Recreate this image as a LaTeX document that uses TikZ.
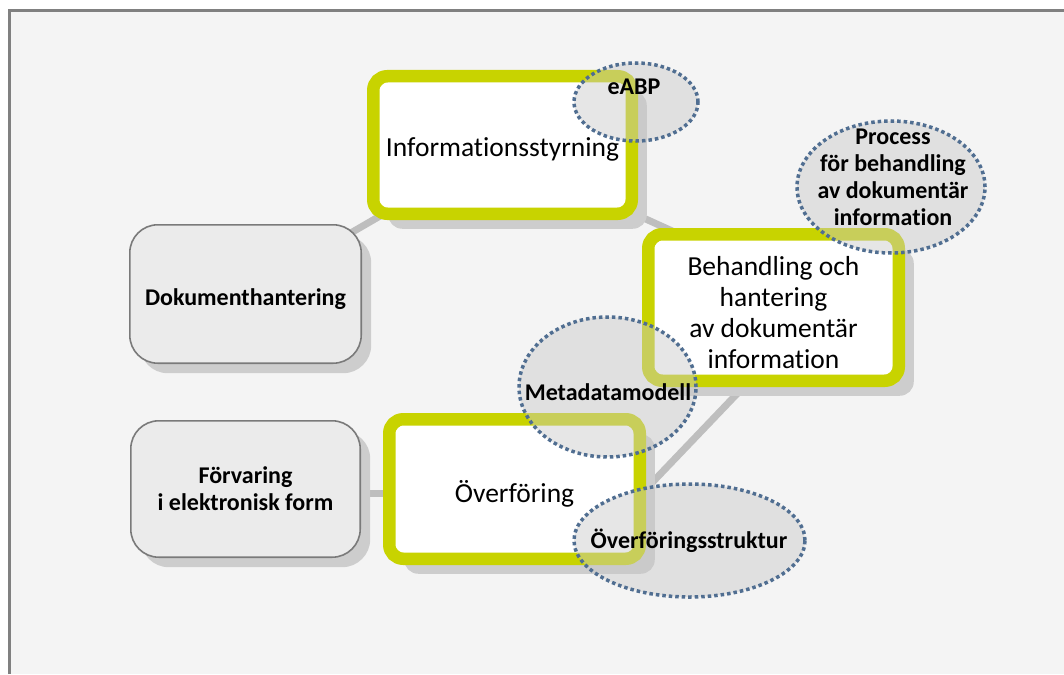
\documentclass[tikz,border=0pt]{standalone}
\usepackage{fontspec}
\setmainfont[Ligatures=NoCommon]{Carlito}
\usetikzlibrary{shapes.geometric,shadows}
\definecolor{bgfill}{RGB}{244,244,244}
\definecolor{framegray}{RGB}{128,128,128}
\definecolor{lime}{RGB}{200,211,0}
\definecolor{boxgray}{RGB}{235,235,235}
\definecolor{boxline}{RGB}{122,122,122}
\definecolor{shade}{RGB}{205,205,205}
\definecolor{conn}{RGB}{190,190,190}
\definecolor{dotblue}{RGB}{80,110,145}
\definecolor{ellfill}{RGB}{200,200,200}
\pgfdeclarelayer{back}
\pgfdeclarelayer{links}
\pgfsetlayers{back,links,main}
\begin{document}
\begin{tikzpicture}[x=1pt,y=-1pt,
  limebox/.style={rectangle, draw=lime, fill=white, line width=12.5pt, rounded corners=14pt,
    inner sep=0pt, align=center, font=\fontsize{27.5}{31}\selectfont,
    drop shadow={shadow xshift=15pt, shadow yshift=-15pt, fill=shade, opacity=1}},
  graybox/.style={rectangle, draw=boxline, fill=boxgray, line width=1.6pt, rounded corners=28pt,
    inner sep=0pt, align=center, font=\bfseries\fontsize{24}{27}\selectfont,
    drop shadow={shadow xshift=10pt, shadow yshift=-10pt, fill=shade, opacity=1}},
  bubble/.style={ellipse, draw=dotblue, line width=3.5pt, line cap=butt, dash pattern=on 3.5pt off 3pt,
    fill=ellfill, fill opacity=0.45, inner sep=0pt},
  bubbletext/.style={font=\bfseries\fontsize{24}{27}\selectfont, align=center, text=black, inner sep=0pt},
  link/.style={draw=conn, line width=7pt}]
\useasboundingbox (0,0) rectangle (1064,674);
\begin{pgfonlayer}{back}
  \fill[white] (0,0) rectangle (1064,674);
  \fill[bgfill] (9.5,11) rectangle (1064,674);
  \draw[framegray, line width=3pt] (9.5,674) -- (9.5,11) -- (1064,11);
\end{pgfonlayer}

\node[graybox, minimum width=231.4pt, minimum height=138.4pt] (doku) at (245.5,294) {\rule{0pt}{27pt}Dokumenthantering};
\node[graybox, minimum width=229.4pt, minimum height=136.4pt] (forv) at (245.5,489) {Förvaring\\i elektronisk form};
\node[limebox, minimum width=258.5pt, minimum height=137.5pt] (info) at (502.5,145) {\rule{0pt}{28pt}Informationsstyrning};
\node[limebox, minimum width=250.5pt, minimum height=146.5pt] (beh) at (773.5,307.5) {\rule{0pt}{30pt}Behandling och\\hantering\\av dokumentär\\information};
\node[limebox, minimum width=250.5pt, minimum height=139.5pt] (over) at (514.5,489) {\rule{0pt}{32pt}Överföring};

\begin{pgfonlayer}{links}
  \draw[link] (doku.center) -- (info.center);
  \draw[link] ([yshift=-9pt]info.center) -- ([yshift=30.5pt]beh.center);
  \draw[link] ([xshift=-30pt]beh.south) -- (over.east);
  \draw[link] ([yshift=-4pt]forv.east) -- ([yshift=-4pt]over.west);
\end{pgfonlayer}

\node[bubble, minimum width=124pt, minimum height=78pt] (eabp) at (636,102) {};
\node[bubble, minimum width=188pt, minimum height=132pt] (proc) at (891,187) {};
\node[bubble, minimum width=177pt, minimum height=140pt] (meta) at (607.5,387) {};
\node[bubble, minimum width=231pt, minimum height=113pt] (ostr) at (689.5,540.5) {};

\node[bubbletext] (eabpt) at (634,87) {eABP};
\node[bubbletext] (proct) at (893,177) {Process\\för behandling\\av dokumentär\\information};
\node[bubbletext] (metat) at (608,392) {Metadatamodell};
\node[bubbletext] (ostrt) at (689,541) {Överföringsstruktur};
\end{tikzpicture}
\end{document}
